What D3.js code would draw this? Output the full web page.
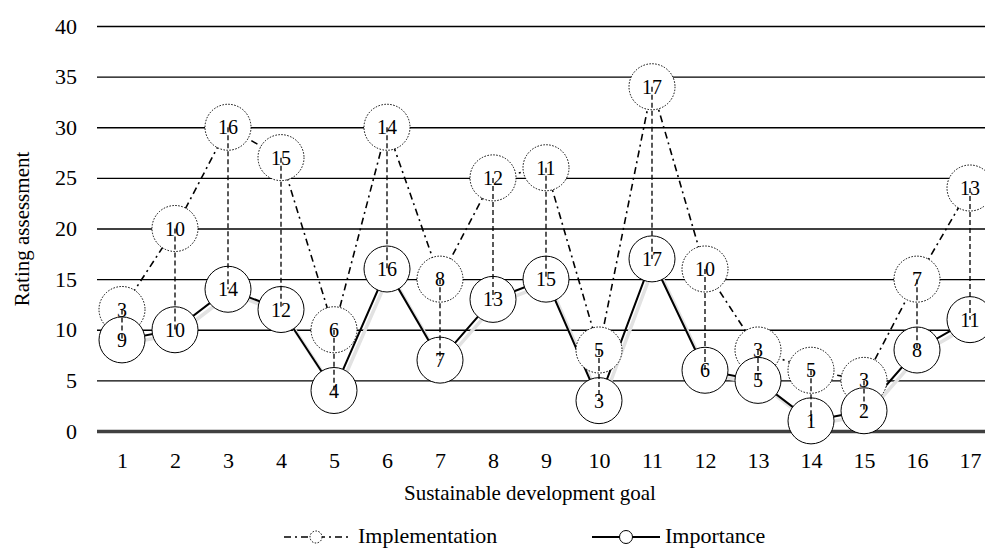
<!DOCTYPE html>
<html>
<head>
<meta charset="utf-8">
<script src="https://cdn.jsdelivr.net/npm/d3@7"></script>
<style>
  html, body { margin: 0; padding: 0; background: #fff; }
  svg { display: block; font-family: "Liberation Serif", "Times New Roman", serif; }
</style>
</head>
<body>
<svg id="chart" width="985" height="548"></svg>
<script>
// ---- data ----
const goals = [1,2,3,4,5,6,7,8,9,10,11,12,13,14,15,16,17];
const implementation = [12,20,30,27,10,30,15,25,26,8,34,16,8,6,5,15,24];
const implementationRank = [3,10,16,15,6,14,8,12,11,5,17,10,3,5,3,7,13];
const importance = [9,10,14,12,4,16,7,13,15,3,17,6,5,1,2,8,11];
const importanceRank = [9,10,14,12,4,16,7,13,15,3,17,6,5,1,2,8,11];
const yTicks = [0,5,10,15,20,25,30,35,40];
const seriesNames = ["Implementation", "Importance"];
const xTitle = "Sustainable development goal";
const yTitle = "Rating assessment";

// ---- layout ----
const FONT = "'Liberation Serif', 'Times New Roman', serif";
const svg = d3.select("#chart");
const plotLeft = 97, plotRight = 985;
const x = d3.scalePoint().domain(goals).range([122, 970]);
const y = d3.scaleLinear().domain([0, 40]).range([431, 26]);
const R = 23;

// gridlines + y tick labels
const yAxis = svg.append("g")
  .attr("transform", `translate(${plotLeft},0)`)
  .call(d3.axisLeft(y).tickValues(yTicks).tickSize(-(plotRight - plotLeft)).tickPadding(20));
yAxis.attr("font-family", FONT);
yAxis.select(".domain").remove();
yAxis.selectAll(".tick line")
  .attr("stroke", d => d === 0 ? "#404040" : "#000")
  .attr("stroke-width", d => d === 0 ? 3.5 : 1.3);
yAxis.selectAll(".tick text")
  .attr("font-size", 22).attr("fill", "#000").style("font-family", FONT);

// x tick labels
const xAxis = svg.append("g")
  .attr("transform", `translate(0,431)`)
  .call(d3.axisBottom(x).tickSize(0).tickPadding(21));
xAxis.attr("font-family", FONT);
xAxis.select(".domain").remove();
xAxis.selectAll(".tick text")
  .attr("font-size", 22).attr("fill", "#000").style("font-family", FONT);

// axis titles
svg.append("text").attr("x", 530).attr("y", 500).attr("text-anchor", "middle")
  .attr("font-size", 21).style("font-family", FONT).text(xTitle);
svg.append("text").attr("transform", "translate(22,229) rotate(-90)")
  .attr("text-anchor", "middle").attr("dominant-baseline", "central")
  .attr("font-size", 21).style("font-family", FONT).text(yTitle);

const impData = goals.map((g, i) => ({g, v: implementation[i], r: implementationRank[i]}));
const impoData = goals.map((g, i) => ({g, v: importance[i], r: importanceRank[i]}));
const line = d3.line().x(d => x(d.g)).y(d => y(d.v));

// shadow of importance line
svg.append("path").datum(impoData)
  .attr("d", line).attr("transform", "translate(3,4)")
  .attr("fill", "none").attr("stroke", "#e2e2e2").attr("stroke-width", 3.5);

// lines
svg.append("path").datum(impoData).attr("d", line)
  .attr("fill", "none").attr("stroke", "#000").attr("stroke-width", 2);
svg.append("path").datum(impData).attr("d", line)
  .attr("fill", "none").attr("stroke", "#000").attr("stroke-width", 1.6)
  .attr("stroke-dasharray", "7,4,2,4");

// circles
svg.append("g").selectAll("circle").data(impData).join("circle")
  .attr("cx", d => x(d.g)).attr("cy", d => y(d.v)).attr("r", R)
  .attr("fill", "#fff").attr("stroke", "#000").attr("stroke-width", 1)
  .attr("stroke-dasharray", "1.5,1.5");
svg.append("g").selectAll("circle").data(impoData).join("circle")
  .attr("cx", d => x(d.g)).attr("cy", d => y(d.v)).attr("r", R)
  .attr("fill", "#fff").attr("stroke", "#000").attr("stroke-width", 1);

// labels
const lab = svg.append("g").attr("font-size", 20).attr("text-anchor", "middle").style("font-family", FONT);
lab.selectAll("text.imp").data(impData).join("text").attr("class", "imp")
  .attr("x", d => x(d.g)).attr("y", d => y(d.v)).attr("dy", "0.35em").text(d => d.r);
lab.selectAll("text.impo").data(impoData).join("text").attr("class", "impo")
  .attr("x", d => x(d.g)).attr("y", d => y(d.v)).attr("dy", "0.35em").text(d => d.r);

// vertical dashed connectors
svg.append("g").selectAll("line").data(goals).join("line")
  .attr("x1", g => x(g)).attr("x2", g => x(g))
  .attr("y1", (g, i) => y(implementation[i])).attr("y2", (g, i) => y(importance[i]))
  .attr("stroke", "#000").attr("stroke-width", 1.3).attr("stroke-dasharray", "5,3");

// legend
const ly = 537;
const leg = svg.append("g").style("font-family", FONT);
leg.append("line").attr("x1", 284).attr("x2", 352).attr("y1", ly).attr("y2", ly)
  .attr("stroke", "#000").attr("stroke-width", 1.6).attr("stroke-dasharray", "7,4,2,4");
leg.append("circle").attr("cx", 316).attr("cy", ly).attr("r", 6)
  .attr("fill", "#fff").attr("stroke", "#000").attr("stroke-width", 1).attr("stroke-dasharray", "1.5,1.5");
leg.append("text").attr("x", 358).attr("y", 543).attr("font-size", 22).text(seriesNames[0]);
leg.append("line").attr("x1", 592).attr("x2", 660).attr("y1", ly).attr("y2", ly)
  .attr("stroke", "#000").attr("stroke-width", 2);
leg.append("circle").attr("cx", 626).attr("cy", ly).attr("r", 6.5)
  .attr("fill", "#fff").attr("stroke", "#000").attr("stroke-width", 1);
leg.append("text").attr("x", 665).attr("y", 543).attr("font-size", 22).text(seriesNames[1]);
</script>
</body>
</html>
